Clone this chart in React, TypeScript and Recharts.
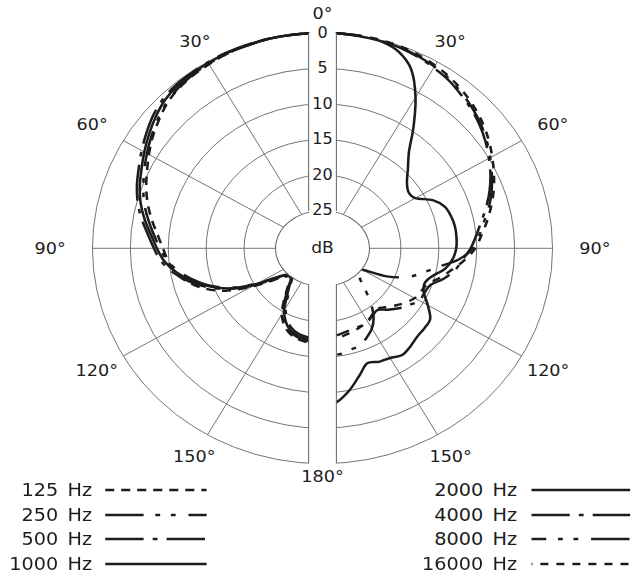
import { RadarChart, Radar, PolarGrid, PolarAngleAxis, PolarRadiusAxis } from 'recharts';

// angle away from the front of the microphone, one half of the diagram (degrees)
const SIDE_ANGLES = [0, 5, 10, 15, 20, 25, 30, 35, 40, 45, 50, 55, 60, 65, 70, 75, 80, 85, 90, 95, 100, 105, 110, 115, 120, 125, 130, 135, 140, 145, 150, 155, 160, 165, 170, 175, 180];

// relative level in dB, drawn on the left half
const HZ_125 = [0, 0, 0, 0, -0.1, -0.2, -0.4, -0.6, -0.9, -1.4, -2.2, -3.0, -3.9, -4.8, -5.6, -6.5, -7.5, -8.5, -9.3, -9.9, -10.6, -12.0, -13.8, -16.2, -19.5, -22.6, -24.2, -24.4, -23.2, -21.5, -19.6, -18.4, -17.6, -17.2, -17.0, -16.9, -16.9];
const HZ_250 = [0, 0, 0, 0, -0.1, -0.2, -0.3, -0.5, -0.8, -1.3, -2.0, -2.8, -3.6, -4.4, -5.2, -6.0, -7.0, -8.0, -8.9, -9.8, -11.2, -12.9, -14.8, -17.2, -20.5, -23.5, -24.6, -24.7, -23.8, -22.5, -20.6, -19.3, -18.4, -17.9, -17.7, -17.6, -17.6];
const HZ_500 = [0, 0, 0, 0, 0, 0, -0.1, -0.2, -0.3, -0.6, -1.2, -2.0, -2.8, -3.6, -4.3, -5.1, -6.1, -7.2, -8.1, -9.0, -10.4, -12.2, -14.3, -16.8, -20.0, -23.0, -24.3, -24.5, -23.4, -21.8, -19.8, -18.6, -17.8, -17.4, -17.2, -17.1, -17.1];
const HZ_1000 = [0, 0, 0, 0, -0.1, -0.1, -0.2, -0.3, -0.5, -0.9, -1.6, -2.4, -3.2, -4.0, -4.7, -5.5, -6.5, -7.6, -8.5, -9.4, -10.8, -12.6, -14.6, -17.0, -20.3, -23.3, -24.5, -24.6, -23.6, -22.2, -20.2, -18.9, -18.0, -17.6, -17.4, -17.3, -17.3];

// relative level in dB, drawn on the right half
const HZ_2000 = [0, 0, -0.1, -0.2, -0.9, -2.6, -5.8, -9.4, -12.6, -14.4, -15.8, -16.5, -16.2, -14.3, -13.2, -12.8, -12.6, -12.6, -12.7, -13.1, -13.9, -15.3, -16.0, -15.6, -14.3, -13.0, -12.8, -12.7, -12.3, -12.0, -12.5, -12.7, -13.1, -11.7, -10.0, -8.6, -8.0];
const HZ_4000 = [0, 0, 0, -0.1, -0.3, -0.6, -1.0, -1.4, -2.0, -2.6, -3.3, -4.1, -5.0, -5.9, -6.9, -8.0, -9.1, -10.0, -10.8, -11.8, -12.6, -13.8, -15.2, -15.5, -15.6, -16.4, -17.2, -18.1, -19.0, -18.8, -18.4, -18.3, -18.3, -18.2, -18.0, -17.9, -17.9];
const HZ_8000 = [0, 0, 0, -0.1, -0.2, -0.5, -0.8, -1.2, -1.8, -2.4, -3.1, -3.9, -4.8, -5.7, -6.6, -7.6, -8.7, -9.6, -10.5, -12.3, -15.0, -16.8, -18.5, -21.0, -24.3, -24.6, -24.0, -22.6, -20.5, -18.6, -17.3, -16.5, -15.8, -15.6, -15.3, -15.2, -15.2];
const HZ_16000 = [0, 0, 0, 0, -0.1, -0.3, -0.6, -1.0, -1.5, -2.1, -2.8, -3.6, -4.5, -5.4, -6.3, -7.3, -8.3, -9.3, -10.2, -11.5, -13.0, -14.3, -15.6, -16.0, -16.3, -17.0, -17.8, -18.6, -19.2, -18.9, -18.5, -18.2, -18.0, -17.8, -17.6, -17.5, -17.5];

const LEFT_SERIES = [
  { key: 'hz125', label: '125 Hz', values: HZ_125, dash: '8.5 6.5', offset: 0 },
  { key: 'hz250', label: '250 Hz', values: HZ_250, dash: '36 11 4.5 10 4.5 12', offset: 0 },
  { key: 'hz500', label: '500 Hz', values: HZ_500, dash: '36 8.5 4.5 8.5', offset: 0 },
  { key: 'hz1000', label: '1000 Hz', values: HZ_1000, dash: undefined, offset: 0 },
];
const RIGHT_SERIES = [
  { key: 'hz2000', label: '2000 Hz', values: HZ_2000, dash: undefined, offset: 0 },
  { key: 'hz4000', label: '4000 Hz', values: HZ_4000, dash: '36 8.5 4.5 8.5', offset: 0 },
  { key: 'hz8000', label: '8000 Hz', values: HZ_8000, dash: '36 11 4.5 10 4.5 12', offset: 22 },
  { key: 'hz16000', label: '16000 Hz', values: HZ_16000, dash: '7.5 7.5', offset: 6.5 },
];

const FONT = '"DejaVu Sans", sans-serif';
const INK = '#1c1c1c';
const GRID = '#6a6a6a';
const W = 637;
const H = 500;
const CX = 322.5;
const CY = 248.3;
const R_IN = 37.9;
const R_OUT = 215.4;
const STRETCH = 1.068; // the original diagram is a little wider than tall
const GAP = 12.6; // half width of the blank strip down the middle
const HOLE_RX = 44.5;
const HOLE_RY = 38.5;
const SPOKES = [60, 30, 0, -30, -60, -120, -150, -180, -210, -240];
const LABEL_R: Record<number, number> = { 0: 235, 30: 239, 60: 249, 90: 255, 120: 244, 150: 240, 180: 228 };

// compass angles clockwise from the top: 0..180 then 185..355
const COMPASS = [...SIDE_ANGLES, ...SIDE_ANGLES.slice(1, -1).map(a => 360 - a).reverse()];

const rightRows = COMPASS.map(c => {
  const row: Record<string, number | null> = { angle: c };
  RIGHT_SERIES.forEach(s => {
    row[s.key] = c <= 180 ? s.values[SIDE_ANGLES.indexOf(c)] : null;
  });
  return row;
});

// left half starts at the bottom so that it runs 180 -> 270 -> 0 without a break
const leftRows = [...COMPASS.slice(36), ...COMPASS.slice(0, 36)].map(c => {
  const row: Record<string, number | null> = { angle: c };
  LEFT_SERIES.forEach(s => {
    row[s.key] = c === 0 || c >= 180 ? s.values[SIDE_ANGLES.indexOf(c === 0 ? 0 : 360 - c)] : null;
  });
  return row;
});

// catmull-rom through the radar points, so the traces look drawn rather than polygonal
function smoothPath(pts: { x: number; y: number }[]) {
  let d = `M${pts[0].x},${pts[0].y}`;
  for (let i = 0; i < pts.length - 1; i++) {
    const p0 = pts[i - 1] || pts[i];
    const p1 = pts[i];
    const p2 = pts[i + 1];
    const p3 = pts[i + 2] || p2;
    const c1x = p1.x + (p2.x - p0.x) / 6;
    const c1y = p1.y + (p2.y - p0.y) / 6;
    const c2x = p2.x - (p3.x - p1.x) / 6;
    const c2y = p2.y - (p3.y - p1.y) / 6;
    d += ` C${c1x},${c1y} ${c2x},${c2y} ${p2.x},${p2.y}`;
  }
  return d;
}

const SmoothTrace = (props: any) => {
  const segs: any[][] = [];
  let cur: any[] = [];
  (props.points || []).forEach((p: any) => {
    if (p.value != null && Number.isFinite(p.x) && Number.isFinite(p.y)) cur.push(p);
    else {
      if (cur.length) segs.push(cur);
      cur = [];
    }
  });
  if (cur.length) segs.push(cur);
  const d = segs.filter(s => s.length > 1).map(smoothPath).join(' ');
  return (
    <path d={d} fill="none" stroke={INK} strokeWidth={2.4} strokeDasharray={props.dash}
      strokeLinejoin="round" />
  );
};

const AngleTick = (props: any) => {
  const c = Number(props.payload.value);
  if (c % 30 !== 0) return <g />;
  const side = c <= 180 ? c : 360 - c;
  const dx = props.x - CX;
  const dy = props.y - CY;
  const len = Math.sqrt(dx * dx + dy * dy) || 1;
  const r = LABEL_R[side];
  return (
    <text x={CX + (dx / len) * r} y={CY + (dy / len) * r} textAnchor="middle" dominantBaseline="central"
      fontSize={16.5} fontFamily={FONT} fill={INK}>
      {side}°
    </text>
  );
};

const RadiusTick = (props: any) => (
  <text x={props.x} y={props.y} textAnchor="middle" dominantBaseline="central" fontSize={15} fontFamily={FONT} fill={INK}>
    {Math.abs(Number(props.payload.value))}
  </text>
);

const Half = ({ rows, series, start }: { rows: any[]; series: typeof LEFT_SERIES; start: number }) => (
  <RadarChart width={W} height={H} data={rows} cx={CX} cy={CY} innerRadius={R_IN} outerRadius={R_OUT}
    startAngle={start} endAngle={start - 360} margin={{ top: 0, right: 0, bottom: 0, left: 0 }}>
    <PolarGrid gridType="circle" polarAngles={SPOKES} stroke={GRID} strokeWidth={0.9} />
    <PolarAngleAxis dataKey="angle" tick={false} axisLine={false} tickLine={false} />
    <PolarRadiusAxis type="number" domain={[-25, 0]} tickCount={6} tick={false} axisLine={false} tickLine={false} />
    {series.map(s => (
      <Radar key={s.key} dataKey={s.key} stroke={INK} strokeWidth={2.4} strokeDasharray={s.dash}
        fill="none" fillOpacity={0} dot={false} activeDot={false} connectNulls={false}
        shape={(p: any) => <SmoothTrace {...p} dash={s.dash} />}
        isAnimationActive={false} legendType="none" />
    ))}
  </RadarChart>
);

const LEGEND_COLS = [
  { series: LEFT_SERIES, textRight: 106.7, lineX: 118.8, lineW: 95.5 },
  { series: RIGHT_SERIES, textRight: 504.6, lineX: 518.4, lineW: 92.7 },
];
const LEGEND_Y = [490, 514.5, 539, 564];

export default function App() {
  const yOuter = Math.sqrt(R_OUT * R_OUT - GAP * GAP);
  const yHole = HOLE_RY * Math.sqrt(1 - (GAP / HOLE_RX) ** 2);
  const stripLine = (x: number, top: number, bottom: number) => (
    <div style={{ position: 'absolute', left: x - 0.5, top, width: 1, height: bottom - top, background: GRID }} />
  );

  return (
    <div style={{ position: 'absolute', left: 0, top: 0, width: W, height: 576, background: '#fff', transform: `scaleX(${STRETCH})`, transformOrigin: `${CX}px 0`, fontFamily: FONT, color: INK }}>
      <div style={{ position: 'absolute', left: 0, top: 0, width: CX - GAP, height: H, overflow: 'hidden' }}>
        <Half rows={leftRows} series={LEFT_SERIES} start={-90} />
      </div>
      <div style={{ position: 'absolute', left: CX + GAP, top: 0, width: W - CX - GAP, height: H, overflow: 'hidden' }}>
        <div style={{ position: 'absolute', left: -(CX + GAP), top: 0 }}>
          <Half rows={rightRows} series={RIGHT_SERIES} start={90} />
        </div>
      </div>

      <div style={{ position: 'absolute', left: CX - HOLE_RX, top: CY - HOLE_RY, width: HOLE_RX * 2, height: HOLE_RY * 2, boxSizing: 'border-box', border: `1px solid ${GRID}`, borderRadius: '50%', background: '#fff' }} />
      <div style={{ position: 'absolute', left: CX - GAP + 0.5, top: CY - R_OUT, width: GAP * 2 - 1, height: R_OUT * 2, background: '#fff' }} />
      {stripLine(CX - GAP, CY - yOuter, CY - yHole)}
      {stripLine(CX + GAP, CY - yOuter, CY - yHole)}
      {stripLine(CX - GAP, CY + yHole, CY + yOuter)}
      {stripLine(CX + GAP, CY + yHole, CY + yOuter)}
      <div style={{ position: 'absolute', left: CX - 30, top: CY - 12, width: 60, height: 24, lineHeight: '24px', textAlign: 'center', fontSize: 16 }}>dB</div>

      <div style={{ position: 'absolute', left: 0, top: 0, pointerEvents: 'none' }}>
        <RadarChart width={W} height={H} data={rightRows} cx={CX} cy={CY} innerRadius={R_IN} outerRadius={R_OUT}
          startAngle={90} endAngle={-270} margin={{ top: 0, right: 0, bottom: 0, left: 0 }}>
          <PolarAngleAxis dataKey="angle" tick={AngleTick} axisLine={false} tickLine={false} />
          <PolarRadiusAxis type="number" angle={90} domain={[-25, 0]} tickCount={6} tick={RadiusTick} axisLine={false} tickLine={false} />
          <Radar dataKey="hz2000" stroke="none" fill="none" dot={false} activeDot={false} isAnimationActive={false} legendType="none" />
        </RadarChart>
      </div>

      {LEGEND_COLS.map(col =>
        col.series.map((s, i) => (
          <div key={s.key}>
            <div style={{ position: 'absolute', left: col.textRight - 160, top: LEGEND_Y[i] - 13, width: 160, height: 26, lineHeight: '26px', textAlign: 'right', fontSize: 18, wordSpacing: 3 }}>
              {s.label}
            </div>
            <svg style={{ position: 'absolute', left: col.lineX, top: LEGEND_Y[i] - 5 }} width={col.lineW} height={10}>
              <line x1={0} y1={5} x2={col.lineW} y2={5} stroke={INK} strokeWidth={2.6} strokeDasharray={s.dash} strokeDashoffset={s.offset} />
            </svg>
          </div>
        ))
      )}
    </div>
  );
}
